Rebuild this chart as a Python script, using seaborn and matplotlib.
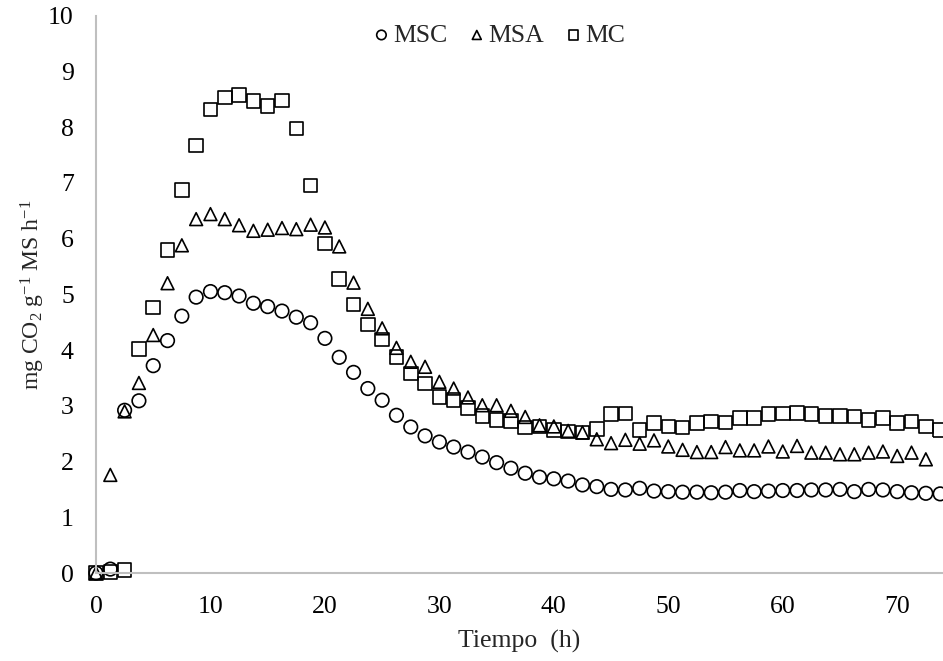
import matplotlib
matplotlib.use("Agg")
import matplotlib.pyplot as plt
import pandas as pd
import seaborn as sns

time_h = [0, 1.25, 2.5, 3.75, 5, 6.25, 7.5, 8.75, 10, 11.25,
          12.5, 13.75, 15, 16.25, 17.5, 18.75, 20, 21.25, 22.5, 23.75,
          25, 26.25, 27.5, 28.75, 30, 31.25, 32.5, 33.75, 35, 36.25,
          37.5, 38.75, 40, 41.25, 42.5, 43.75, 45, 46.25, 47.5, 48.75,
          50, 51.25, 52.5, 53.75, 55, 56.25, 57.5, 58.75, 60, 61.25,
          62.5, 63.75, 65, 66.25, 67.5, 68.75, 70, 71.25, 72.5, 73.75]

msc = [0.0, 0.07, 2.92, 3.09, 3.72, 4.17, 4.61, 4.95, 5.05, 5.03,
       4.97, 4.84, 4.78, 4.70, 4.59, 4.49, 4.21, 3.87, 3.60, 3.31,
       3.10, 2.83, 2.62, 2.46, 2.35, 2.26, 2.17, 2.08, 1.98, 1.88,
       1.79, 1.72, 1.69, 1.65, 1.58, 1.55, 1.50, 1.49, 1.52, 1.47,
       1.46, 1.45, 1.45, 1.44, 1.45, 1.48, 1.46, 1.47, 1.48, 1.48,
       1.49, 1.49, 1.50, 1.46, 1.50, 1.49, 1.46, 1.44, 1.43, 1.42]

msa = [0.0, 1.76, 2.90, 3.41, 4.27, 5.20, 5.88, 6.35, 6.44, 6.35,
       6.24, 6.14, 6.16, 6.19, 6.17, 6.25, 6.20, 5.86, 5.21, 4.74,
       4.39, 4.04, 3.79, 3.70, 3.43, 3.31, 3.15, 3.01, 3.01, 2.91,
       2.80, 2.65, 2.63, 2.55, 2.52, 2.40, 2.33, 2.39, 2.32, 2.38,
       2.27, 2.21, 2.17, 2.17, 2.26, 2.20, 2.20, 2.27, 2.18, 2.28,
       2.16, 2.16, 2.13, 2.13, 2.16, 2.18, 2.10, 2.16, 2.04]

mc = [0.0, 0.02, 0.05, 4.02, 4.76, 5.80, 6.87, 7.67, 8.32, 8.53,
      8.58, 8.47, 8.38, 8.48, 7.98, 6.95, 5.91, 5.28, 4.82, 4.46,
      4.19, 3.88, 3.58, 3.40, 3.16, 3.10, 2.96, 2.82, 2.75, 2.73,
      2.61, 2.63, 2.57, 2.54, 2.52, 2.58, 2.85, 2.86, 2.57, 2.69,
      2.63, 2.61, 2.69, 2.72, 2.70, 2.78, 2.78, 2.85, 2.86, 2.87,
      2.85, 2.82, 2.82, 2.81, 2.75, 2.78, 2.69, 2.72, 2.63, 2.57]

x_ticks = [0, 10, 20, 30, 40, 50, 60, 70]
y_ticks = [0, 1, 2, 3, 4, 5, 6, 7, 8, 9, 10]

sns.set_style("white")
plt.rcParams["font.family"] = ["Liberation Serif", "DejaVu Serif"]
plt.rcParams["mathtext.fontset"] = "custom"
plt.rcParams["mathtext.rm"] = "Liberation Serif"
plt.rcParams["mathtext.it"] = "Liberation Serif:italic"

df_msc = pd.DataFrame({"t": time_h, "v": msc})
df_msa = pd.DataFrame({"t": time_h[:len(msa)], "v": msa})
df_mc = pd.DataFrame({"t": time_h, "v": mc})

W, H = 943, 661
fig = plt.figure(figsize=(W / 100, H / 100), dpi=100)
left, right, top, bottom = 96, 943, 15.7, 573
ax = fig.add_axes([left / W, 1 - bottom / H, (right - left) / W, (bottom - top) / H])

common = dict(facecolors="none", edgecolor="black", linewidth=1.2, clip_on=False, ax=ax)
sns.scatterplot(data=df_msc, x="t", y="v", marker="o", s=95, label="MSC", **common)
sns.scatterplot(data=df_msa, x="t", y="v", marker="^", s=85, label="MSA", **common)
sns.scatterplot(data=df_mc, x="t", y="v", marker="s", s=95, label="MC", **common)

ax.set_xlim(0, 74)
ax.set_ylim(0, 10)
ax.set_xticks(x_ticks)
ax.set_yticks(y_ticks)
for s in ["top", "right"]:
    ax.spines[s].set_visible(False)
for s in ["left", "bottom"]:
    ax.spines[s].set_color("#BFBFBF")
    ax.spines[s].set_linewidth(1.5)
ax.tick_params(axis="both", direction="in", length=4, width=1.2, color="#BFBFBF",
               labelsize=18.5, labelcolor="black")
ax.tick_params(axis="x", pad=16.5)
ax.tick_params(axis="y", pad=16)

ax.set_xlabel("Tiempo  (h)", fontsize=18.5)
ax.set_ylabel(r"mg CO$_2$ g$^{-1}$ MS h$^{-1}$", fontsize=17)
ax.xaxis.set_label_coords(0.5, -0.103)
ax.yaxis.set_label_coords(-0.058, 0.5)

ax.legend(loc="center", bbox_to_anchor=(0.474, 0.965), ncol=3, frameon=False,
          fontsize=18.5, handletextpad=0.0, columnspacing=0.7, markerscale=0.7,
          handlelength=0.9, borderaxespad=0)

fig.savefig("out.png", dpi=100)
